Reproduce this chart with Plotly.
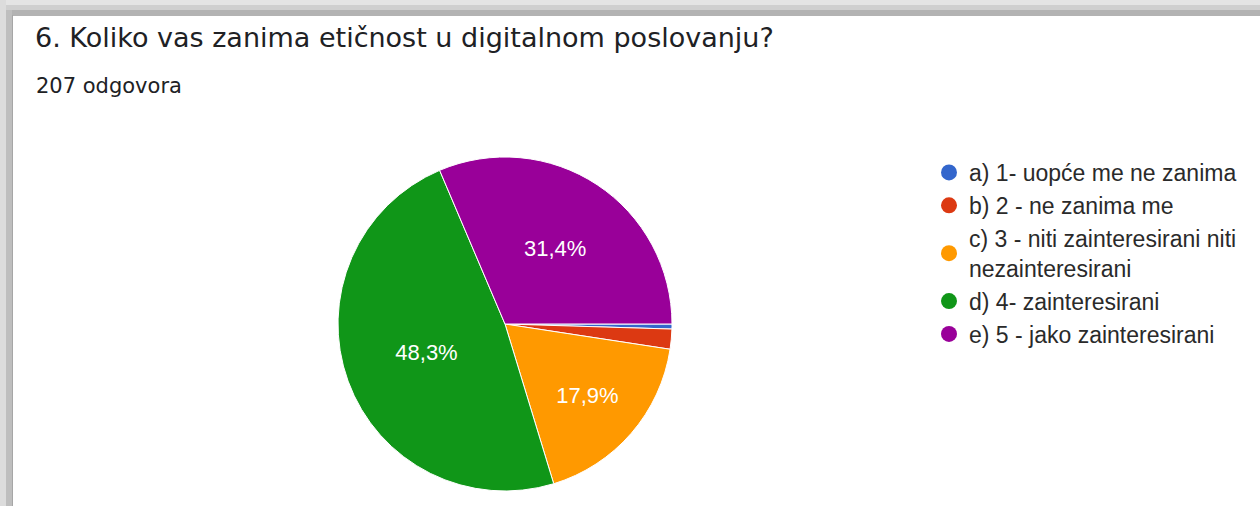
import plotly.graph_objects as go

# odgovori na pitanje 6 (207 ukupno)
labels = [
    "a) 1- uopće me ne zanima",
    "b) 2 - ne zanima me",
    "c) 3 - niti zainteresirani niti<br>nezainteresirani",
    "d) 4- zainteresirani",
    "e) 5 - jako zainteresirani",
]
counts = [1, 4, 37, 100, 65]
colors = ["#3366cc", "#dc3912", "#ff9900", "#109618", "#990099"]
show_label = [False, False, True, True, True]

W, H = 1260, 506

fig = go.Figure()

fig.add_trace(go.Pie(
    labels=labels,
    values=counts,
    sort=False,
    direction="clockwise",
    rotation=90,
    marker=dict(colors=colors, line=dict(color="white", width=1)),
    texttemplate=["%{percent:.1%}" if s else "" for s in show_label],
    textposition="inside",
    insidetextorientation="horizontal",
    textfont=dict(family="Liberation Sans", size=22, color="white"),
    hoverinfo="label+value+percent",
    showlegend=False,
    domain=dict(x=[(505 - 167) / W, (505 + 167) / W],
                y=[(506 - 324 - 167) / H, (506 - 324 + 167) / H]),
))

# legenda s kruzicima kao u Google Forms
for lab, col in zip(labels, colors):
    fig.add_trace(go.Scatter(
        x=[None], y=[None], mode="markers", name=lab,
        marker=dict(symbol="circle", size=16, color=col),
    ))

# sjena okvira (screenshot)
bands = [
    ("#e4e4e4", 0, 0, W, 5),
    ("#cfcfcf", 0, 5, W, 10),
    ("#b3b3b3", 0, 10, W, 16),
    ("#dcdcdc", 0, 0, 6, H),
    ("#bebebe", 6, 10, 12, H),
    ("#a6a6a6", 12, 15, 13, H),
]
shapes = []
for c, x0, y0, x1, y1 in bands:
    shapes.append(dict(type="rect", xref="paper", yref="paper",
                       x0=x0 / W, x1=x1 / W, y0=1 - y1 / H, y1=1 - y0 / H,
                       fillcolor=c, line=dict(width=0), layer="below"))

fig.update_layout(
    width=W, height=H,
    margin=dict(l=0, r=0, t=0, b=0),
    paper_bgcolor="white",
    plot_bgcolor="white",
    separators=",.",
    xaxis=dict(visible=False),
    yaxis=dict(visible=False),
    shapes=shapes,
    legend=dict(
        x=929 / W, y=1 - 151 / H, xanchor="left", yanchor="top",
        font=dict(family="Liberation Sans", size=23, color="#2a2a2a"),
        bgcolor="rgba(0,0,0,0)",
    ),
    annotations=[
        dict(text="6. Koliko vas zanima etičnost u digitalnom poslovanju?",
             xref="paper", yref="paper", x=33 / W, y=1 - 37 / H,
             xanchor="left", yanchor="middle", showarrow=False,
             font=dict(family="DejaVu Sans", size=27, color="#202124")),
        dict(text="207 odgovora",
             xref="paper", yref="paper", x=34 / W, y=1 - 86 / H,
             xanchor="left", yanchor="middle", showarrow=False,
             font=dict(family="DejaVu Sans", size=21, color="#202124")),
    ],
)

fig.write_html("out.html", config={"displayModeBar": False},
               post_script="document.body.style.margin='0';")
